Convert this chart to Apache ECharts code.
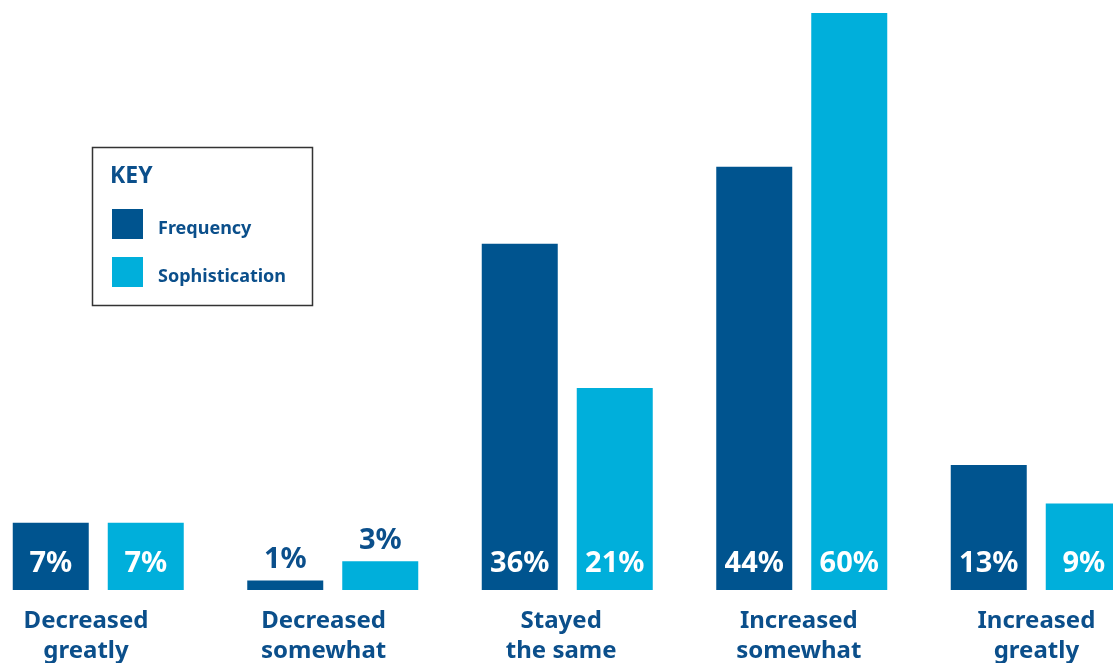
<!DOCTYPE html>
<html lang="en">
<head>
    <meta charset="UTF-8">
    <title>Frequency and sophistication</title>
    <style type="text/css">
        *{
            margin: 0;
            padding: 0;
        }
        #chart{
            width: 1113px;
            height: 663px;
        }
    </style>
</head>
<body>
<div id="chart"></div>
<script src="https://cdn.jsdelivr.net/npm/echarts@6/dist/echarts.min.js"></script>
<script>
    // categories and values (percent)
    var categories = ['Decreased\ngreatly', 'Decreased\nsomewhat', 'Stayed\nthe same', 'Increased\nsomewhat', 'Increased\ngreatly'];
    var frequency = [7, 1, 36, 44, 13];
    var sophistication = [7, 3, 21, 60, 9];

    var darkBlue = '#00548f';
    var lightBlue = '#00afdb';
    var textBlue = '#0b4f8b';
    var font = 'Noto Sans';

    // short bars get their label on top, in blue
    function buildData(values) {
        return values.map(function (v) {
            if (v < 5) {
                return {
                    value: v,
                    label: { position: 'top', distance: 6, color: textBlue }
                };
            }
            return v;
        });
    }

    var barLabel = {
        show: true,
        position: 'insideBottom',
        distance: 12,
        formatter: '{c}%',
        color: '#fff',
        fontFamily: font,
        fontWeight: 'bold',
        fontSize: 29
    };

    var myChart = echarts.init(document.getElementById('chart'));
    var option = {
        animation: false,
        // grid 0: bars, grid 1: category labels (spaced a little wider in the original)
        grid: [
            {
                left: -19,
                right: -40.5,
                top: 13,
                bottom: 73,
                containLabel: false,
                outerBoundsMode: 'none'
            },
            {
                left: -32.8,
                right: -42.2,
                top: 13,
                bottom: 73,
                containLabel: false,
                outerBoundsMode: 'none'
            }
        ],
        graphic: [
            {
                type: 'rect',
                shape: { x: 92.5, y: 147.5, width: 220, height: 158 },
                style: { fill: 'none', stroke: '#333', lineWidth: 1.5 }
            },
            {
                type: 'text',
                left: 110,
                top: 165,
                style: {
                    text: 'KEY',
                    fill: textBlue,
                    font: 'bold 23px "Noto Sans"'
                }
            }
        ],
        legend: {
            orient: 'vertical',
            left: 112,
            top: 209,
            padding: 0,
            itemWidth: 31,
            itemHeight: 30,
            itemGap: 18,
            icon: 'rect',
            formatter: '{t|{name}}',
            textStyle: {
                rich: {
                    t: {
                        color: textBlue,
                        fontFamily: font,
                        fontWeight: 'bold',
                        fontSize: 18,
                        padding: [9, 0, 0, 10]
                    }
                }
            },
            data: ['Frequency', 'Sophistication']
        },
        xAxis: [
            {
                type: 'category',
                gridIndex: 0,
                data: categories,
                axisLine: { show: false },
                axisTick: { show: false },
                axisLabel: { show: false }
            },
            {
                type: 'category',
                gridIndex: 1,
                data: categories,
                axisLine: { show: false },
                axisTick: { show: false },
                axisLabel: {
                    interval: 0,
                    margin: 16,
                    color: textBlue,
                    fontFamily: font,
                    fontWeight: 'bold',
                    fontSize: 24,
                    lineHeight: 30
                }
            }
        ],
        yAxis: [
            {
                type: 'value',
                gridIndex: 0,
                min: 0,
                max: 60,
                show: false
            },
            {
                type: 'value',
                gridIndex: 1,
                min: 0,
                max: 60,
                show: false
            }
        ],
        series: [
            {
                name: 'Frequency',
                type: 'bar',
                barWidth: 76,
                barGap: '25%',
                itemStyle: { color: darkBlue },
                label: barLabel,
                data: buildData(frequency)
            },
            {
                name: 'Sophistication',
                type: 'bar',
                barWidth: 76,
                barGap: '25%',
                itemStyle: { color: lightBlue },
                label: barLabel,
                data: buildData(sophistication)
            }
        ]
    };
    // 渲染
    myChart.setOption(option);
</script>
</body>
</html>
